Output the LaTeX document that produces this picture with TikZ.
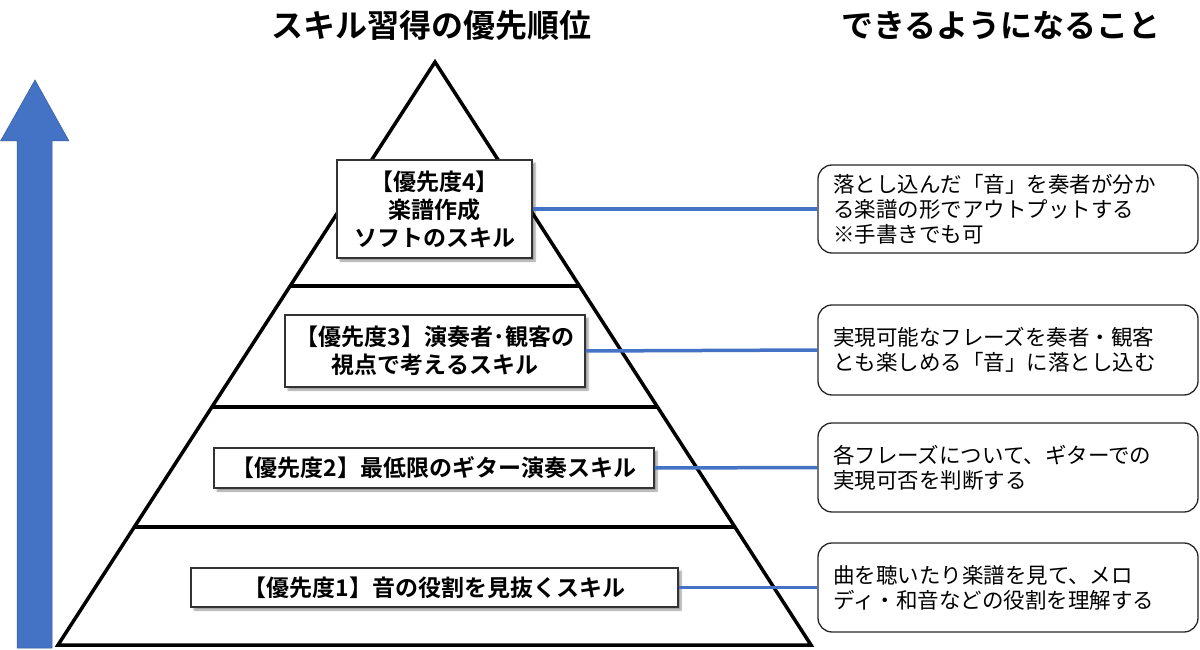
\documentclass[tikz,border=0pt]{standalone}
\usepackage{fontspec}
\newfontfamily\jp{Noto Sans CJK JP}[BoldFont={Noto Sans CJK JP Bold}]
\usetikzlibrary{shadows.blur,calc}
\definecolor{arrowblue}{HTML}{4472C4}
\tikzset{
  skillbox/.style={draw=black!80, line width=1.2pt, fill=white,
    font=\jp\bfseries\fontsize{23}{28}\selectfont, align=center, inner sep=0pt,
    blur shadow={shadow xshift=3pt, shadow yshift=-3pt, shadow blur steps=6, shadow opacity=40}},
  goalbox/.style={draw=black!85, line width=1.3pt, fill=white, rounded corners=14pt,
    font=\jp\fontsize{21.5}{25}\selectfont, align=left, text width=350pt,
    inner xsep=15pt, inner ysep=0pt},
  link/.style={draw=arrowblue, line width=3.5pt},
  level/.style={line width=3.5pt},
  title/.style={font=\jp\bfseries\fontsize{32}{36}\selectfont}
}
\begin{document}
\begin{tikzpicture}[x=1pt,y=-1pt]
\useasboundingbox (0,0) rectangle (1200,650);
% titles
\node[title] (t1) at (431,25) {スキル習得の優先順位};
\node[title] (t2) at (1001,25) {できるようになること};
% big arrow
\filldraw[fill=arrowblue, draw=arrowblue!80!black, line width=0.5pt]
  (35,80) -- (69,141) -- (52,141) -- (52,648) -- (17,648) -- (17,141) -- (0.5,141) -- cycle;
% pyramid
\coordinate (apex) at (435,62);
\coordinate (bl) at (58,645);
\coordinate (br) at (811,645);
\draw[level, line join=miter] (apex) -- (bl) -- (br) -- cycle;
\foreach \t in {0.3842,0.5918,0.7976}
  \draw[level] ($(apex)!\t!(bl)$) -- ($(apex)!\t!(br)$);
% goal boxes
\node[goalbox, minimum height=88pt] (r4) at (1008,209)
  {落とし込んだ「音」を奏者が分か\\る楽譜の形でアウトプットする\\※手書きでも可};
\node[goalbox, minimum height=90pt] (r3) at (1008,350)
  {実現可能なフレーズを奏者・観客\\とも楽しめる「音」に落とし込む};
\node[goalbox, minimum height=89pt] (r2) at (1008,467.5)
  {各フレーズについて、ギターでの\\実現可否を判断する};
\node[goalbox, minimum height=89pt] (r1) at (1008,587.5)
  {曲を聴いたり楽譜を見て、メロ\\ディ・和音などの役割を理解する};
% skill boxes
\node[skillbox, minimum width=195pt, minimum height=98pt] (b4) at (434.5,209)
  {【優先度4】\\楽譜作成\\ソフトのスキル};
\node[skillbox, minimum width=300pt, minimum height=72pt] (b3) at (435,351)
  {【優先度3】演奏者･観客の\\視点で考えるスキル};
\node[skillbox, minimum width=440pt, minimum height=40pt] (b2) at (434,468)
  {【優先度2】最低限のギター演奏スキル};
\node[skillbox, minimum width=487pt, minimum height=39pt] (b1) at (434.5,587.5)
  {【優先度1】音の役割を見抜くスキル};
% links
\draw[link] (b4.east) -- (r4.west);
\draw[link] (b3.east) -- (r3.west);
\draw[link] (b2.east) -- (r2.west);
\draw[link] (b1.east) -- (r1.west);
\end{tikzpicture}
\end{document}
